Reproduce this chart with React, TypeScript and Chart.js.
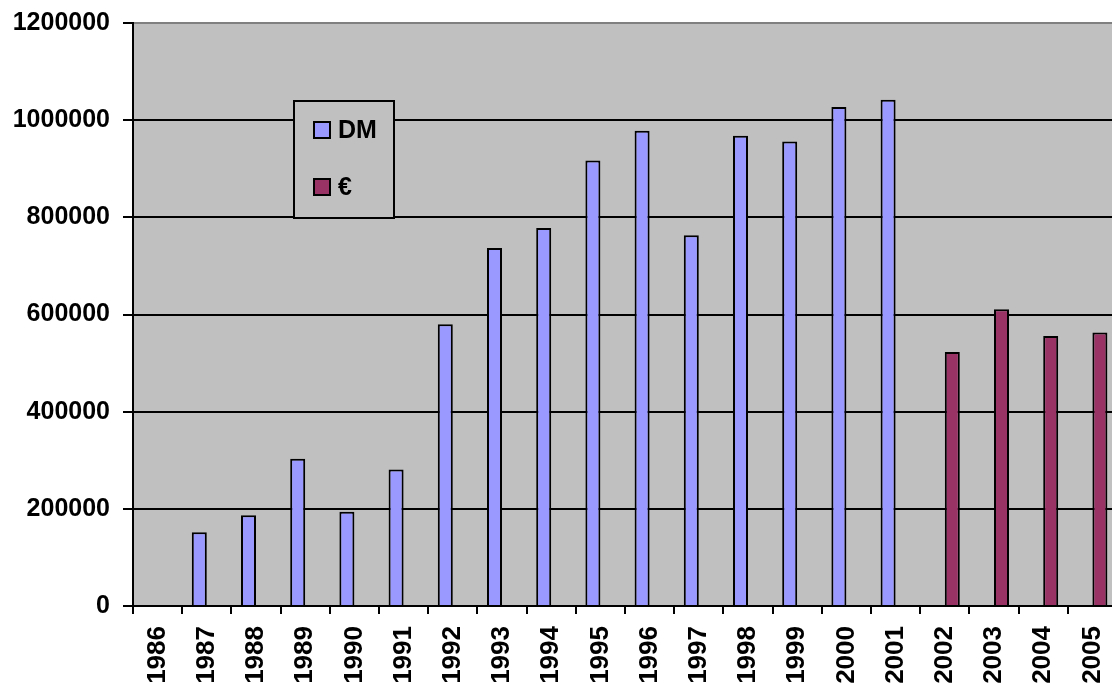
import React, { useEffect, useRef } from "react";
import { Chart, registerables } from "chart.js";

Chart.register(...registerables);

const years = [
  "1986", "1987", "1988", "1989", "1990", "1991", "1992", "1993", "1994", "1995",
  "1996", "1997", "1998", "1999", "2000", "2001", "2002", "2003", "2004", "2005",
];
const dmValues = [
  null, 152000, 187000, 303000, 194000, 281000, 580000, 737000, 778000, 917000,
  978000, 763000, 968000, 956000, 1027000, 1042000, null, null, null, null,
];
const euroValues = [
  null, null, null, null, null, null, null, null, null, null,
  null, null, null, null, null, null, 523000, 611000, 556000, 563000,
];
const yTicks = [0, 200000, 400000, 600000, 800000, 1000000, 1200000];
const seriesLabels = ["DM", "€"];
const seriesColors = ["#9999FF", "#993366"];

const FONT = "'Liberation Sans', Arial, sans-serif";

const plotBackground = {
  id: "plotBackground",
  beforeDraw(chart: any) {
    const { ctx, chartArea } = chart;
    ctx.save();
    ctx.fillStyle = "#C0C0C0";
    ctx.fillRect(chartArea.left, chartArea.top, chartArea.right - chartArea.left, chartArea.bottom - chartArea.top);
    ctx.restore();
  },
};

const boxLegend = {
  id: "boxLegend",
  afterDraw(chart: any) {
    const { ctx } = chart;
    ctx.save();
    ctx.fillStyle = "#C0C0C0";
    ctx.fillRect(294, 101, 100, 117);
    ctx.strokeStyle = "#000";
    ctx.lineWidth = 2;
    ctx.strokeRect(294, 101, 100, 117);
    ctx.font = `bold 25px ${FONT}`;
    ctx.textBaseline = "middle";
    ctx.textAlign = "left";
    chart.data.datasets.forEach((ds: any, i: number) => {
      const cy = 130 + i * 57;
      ctx.fillStyle = ds.backgroundColor;
      ctx.fillRect(314, cy - 8, 16, 16);
      ctx.strokeStyle = "#000";
      ctx.lineWidth = 2;
      ctx.strokeRect(314, cy - 8, 16, 16);
      ctx.fillStyle = "#000";
      ctx.fillText(ds.label, 338, cy + 1);
    });
    ctx.restore();
  },
};

export default function App() {
  const canvasRef = useRef<HTMLCanvasElement | null>(null);

  useEffect(() => {
    document.body.style.margin = "0";
    document.body.style.overflow = "hidden";
    const canvas = canvasRef.current;
    if (!canvas) return;
    const chart = new Chart(canvas, {
      type: "bar",
      data: {
        labels: years,
        datasets: [
          {
            label: seriesLabels[0],
            data: dmValues as any,
            backgroundColor: seriesColors[0],
            borderColor: "#000",
            borderWidth: 2,
            categoryPercentage: 0.61,
            barPercentage: 1,
          },
          {
            label: seriesLabels[1],
            data: euroValues as any,
            backgroundColor: seriesColors[1],
            borderColor: "#000",
            borderWidth: 2,
            categoryPercentage: 0.61,
            barPercentage: 1,
          },
        ],
      },
      options: {
        animation: false,
        responsive: true,
        maintainAspectRatio: false,
        layout: { padding: { top: 23, left: 0, right: 0, bottom: 0 } },
        plugins: {
          legend: { display: false },
          tooltip: { enabled: false },
        },
        scales: {
          x: {
            offset: true,
            grid: {
              offset: true,
              drawOnChartArea: false,
              drawTicks: true,
              tickLength: 8,
              color: "#000",
              lineWidth: 2,
            },
            border: { display: true, color: "#000", width: 2 },
            ticks: {
              minRotation: 90,
              maxRotation: 90,
              autoSkip: false,
              padding: 12,
              color: "#000",
              font: { family: FONT, size: 26, weight: "bold" },
            },
            afterFit(scale: any) {
              scale.height = 78;
              scale.paddingLeft = 0;
              scale.paddingRight = 0;
            },
          },
          y: {
            min: 0,
            max: 1200000,
            grid: {
              color: (c: any) => (c.tick && c.tick.value === 1200000 ? "#808080" : "#000"),
              lineWidth: 2,
              tickLength: 10,
              tickColor: "#000",
              tickWidth: 2,
            },
            border: { display: true, color: "#000", width: 2 },
            ticks: {
              padding: 13,
              color: "#000",
              font: { family: FONT, size: 25, weight: "bold" },
              callback: (v: any) => String(v),
            },
            afterBuildTicks(scale: any) {
              scale.ticks = yTicks.map((v) => ({ value: v }));
            },
            afterFit(scale: any) {
              scale.width = 133;
              scale.paddingTop = 0;
              scale.paddingBottom = 0;
            },
          },
        },
      },
      plugins: [plotBackground, boxLegend],
    });
    return () => chart.destroy();
  }, []);

  return (
    <div style={{ position: "fixed", left: 0, top: 0, width: 1117, height: 684 }}>
      <canvas ref={canvasRef} />
    </div>
  );
}
